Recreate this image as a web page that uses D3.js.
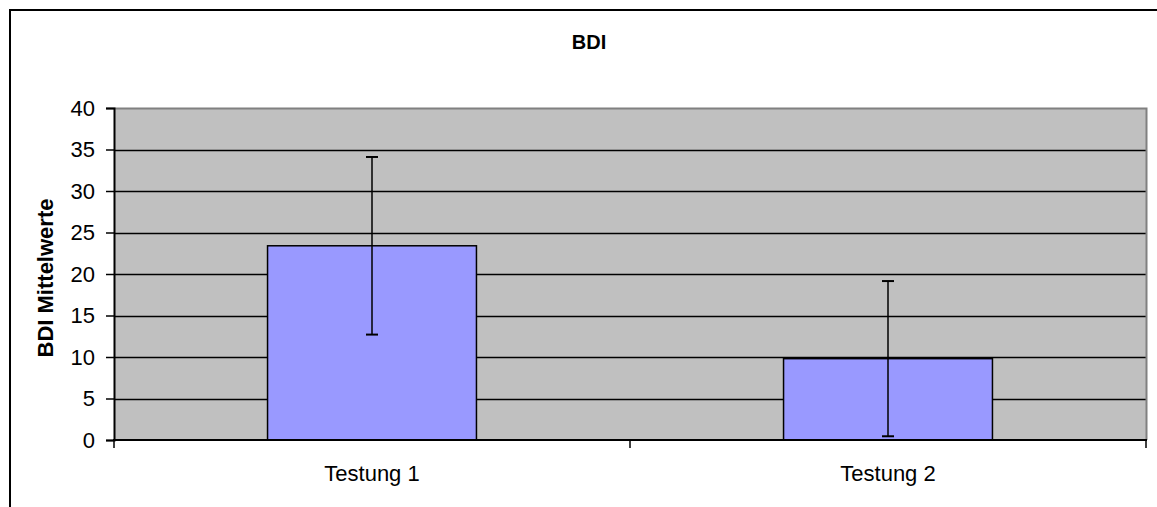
<!DOCTYPE html>
<html>
<head>
<meta charset="utf-8">
<script src="https://cdn.jsdelivr.net/npm/d3@7"></script>
<style>
  html, body { margin: 0; padding: 0; background: #fff; }
  svg { display: block; }
  text { font-family: "Liberation Sans", Arial, sans-serif; fill: #000; }
</style>
</head>
<body>
<svg id="chart" width="1157" height="507"></svg>
<script>
const categories = ["Testung 1", "Testung 2"];
const means = [23.4, 9.8];
const errors = [10.7, 9.35];
const yTicks = [0, 5, 10, 15, 20, 25, 30, 35, 40];
const chartTitle = "BDI";
const yTitle = "BDI Mittelwerte";

const FONT = "'Liberation Sans', Arial, sans-serif";
const svg = d3.select("#chart");
const m = { left: 114, right: 1146, top: 108, bottom: 440 };

// outer frame
svg.append("rect").attr("x", 10).attr("y", 10).attr("width", 1170).attr("height", 520)
  .attr("fill", "#fff").attr("stroke", "#000").attr("stroke-width", 2);

const x = d3.scaleBand().domain(categories).range([m.left, m.right]).padding(0);
const y = d3.scaleLinear().domain([0, 40]).range([m.bottom, m.top]);
const barW = x.bandwidth() / 2.47;

// plot area
svg.append("rect").attr("x", m.left).attr("y", m.top)
  .attr("width", m.right - m.left).attr("height", m.bottom - m.top)
  .attr("fill", "#C0C0C0");

// gridlines
svg.append("g").selectAll("line").data(yTicks.filter(d => d > 0 && d < 40)).join("line")
  .attr("x1", m.left).attr("x2", m.right)
  .attr("y1", d => Math.round(y(d)) + 0.5).attr("y2", d => Math.round(y(d)) + 0.5)
  .attr("stroke", "#000").attr("stroke-width", 1.5);

// top/right gray border
svg.append("path")
  .attr("d", `M${m.left},${m.top + 0.5}H${m.right + 0.5}V${m.bottom}`)
  .attr("fill", "none").attr("stroke", "#808080").attr("stroke-width", 2);

// bars
svg.append("g").selectAll("rect").data(categories).join("rect")
  .attr("x", d => x(d) + (x.bandwidth() - barW) / 2)
  .attr("y", (d, i) => y(means[i]))
  .attr("width", barW)
  .attr("height", (d, i) => y(0) - y(means[i]))
  .attr("fill", "#9999FF").attr("stroke", "#000").attr("stroke-width", 1.5);

// y axis
const yAxis = d3.axisLeft(y).tickValues(yTicks).tickSize(8).tickPadding(11).tickFormat(d3.format("d"));
const gy = svg.append("g").attr("transform", `translate(${m.left},0)`).call(yAxis);
gy.select(".domain").attr("stroke", "#000").attr("stroke-width", 2);
gy.selectAll(".tick line").attr("stroke", "#000").attr("stroke-width", 1.5);
gy.selectAll(".tick text").attr("font-size", 22).attr("font-family", FONT);

// x axis
const gx = svg.append("g").attr("transform", `translate(0,${m.bottom})`)
  .call(d3.axisBottom(x).tickSize(0).tickPadding(25));
gx.select(".domain").remove();
gx.selectAll(".tick text").attr("font-size", 22).attr("font-family", FONT);
svg.append("line").attr("x1", m.left - 1).attr("x2", m.right + 1).attr("y1", m.bottom).attr("y2", m.bottom)
  .attr("stroke", "#000").attr("stroke-width", 2);
// category boundary ticks
const bounds = [m.left, m.left + x.bandwidth(), m.right];
svg.append("g").selectAll("line").data(bounds).join("line")
  .attr("x1", d => d).attr("x2", d => d).attr("y1", m.bottom).attr("y2", m.bottom + 8)
  .attr("stroke", "#000").attr("stroke-width", 1.5);

// error bars
const eb = svg.append("g").attr("stroke", "#000").attr("stroke-width", 1.5);
categories.forEach((c, i) => {
  const cx = x(c) + x.bandwidth() / 2;
  const top = y(means[i] + errors[i]), bot = y(means[i] - errors[i]);
  eb.append("line").attr("x1", cx).attr("x2", cx).attr("y1", top).attr("y2", bot);
  eb.append("line").attr("x1", cx - 6).attr("x2", cx + 6).attr("y1", top).attr("y2", top).attr("stroke-width", 2);
  eb.append("line").attr("x1", cx - 6).attr("x2", cx + 6).attr("y1", bot).attr("y2", bot).attr("stroke-width", 2);
});

// titles
svg.append("text").attr("x", 589).attr("y", 49).attr("text-anchor", "middle")
  .attr("font-size", 20).attr("font-weight", "bold").attr("font-family", FONT).text(chartTitle);
svg.append("text").attr("transform", "translate(53,278) rotate(-90)").attr("text-anchor", "middle")
  .attr("font-size", 22).attr("font-weight", "bold").attr("font-family", FONT).text(yTitle);
</script>
</body>
</html>
